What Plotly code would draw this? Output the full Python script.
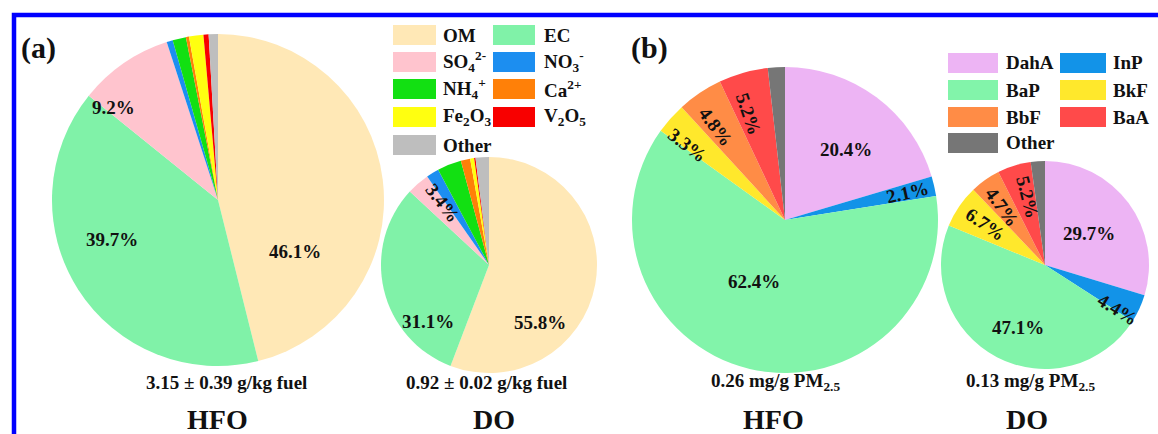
import math
import plotly.graph_objects as go

W, H = 1158, 434
SERIF = "Liberation Serif"

# (a) chemical composition of PM2.5 (% of mass)
comp_labels = ["OM", "EC", "SO<sub>4</sub><sup>2-</sup>", "NO<sub>3</sub><sup>-</sup>",
               "NH<sub>4</sub><sup>+</sup>", "Ca<sup>2+</sup>", "Fe<sub>2</sub>O<sub>3</sub>",
               "V<sub>2</sub>O<sub>5</sub>", "Other"]
comp_hfo = [46.1, 39.7, 9.2, 0.6, 1.3, 0.3, 1.4, 0.5, 0.9]
comp_do = [55.8, 31.1, 3.4, 1.9, 3.6, 1.4, 0.6, 0.2, 2.0]
comp_colors = ["#FFE8B6", "#80F2A8", "#FFC4CE", "#1C8EF0", "#12E012",
               "#FF8008", "#FFFF10", "#F80000", "#BEBEBE"]

# (b) PAH profile (% of total PAHs)
pah_labels = ["DahA", "InP", "BaP", "BkF", "BbF", "BaA", "Other"]
pah_hfo = [20.4, 2.1, 62.4, 3.3, 4.8, 5.2, 1.8]
pah_do = [29.7, 4.4, 47.1, 6.7, 4.7, 5.2, 2.2]
pah_colors = ["#EDB4F4", "#1293E8", "#82F4AA", "#FFE82C", "#FF8C46", "#FF4A4A", "#767676"]

# captions under each pie
totals = ["3.15 ± 0.39 g/kg fuel", "0.92 ± 0.02 g/kg fuel",
          "0.26 mg/g PM<sub>2.5</sub>", "0.13 mg/g PM<sub>2.5</sub>"]
fuels = ["HFO", "DO", "HFO", "DO"]

# pie geometry (centre x, centre y, radius in px) and label placement
# label style: slice index -> (radius fraction, angular shift in deg, orientation)
pies = [
    dict(values=comp_hfo, colors=comp_colors, c=(218, 200), r=166,
         lab={0: (0.56, 41, "h"), 1: (0.68, 12, "h"), 2: (0.84, -14, "h")}),
    dict(values=comp_do, colors=comp_colors, c=(489, 265), r=108,
         lab={0: (0.71, 38, "h"), 1: (0.77, -30, "h"), 2: (0.72, 4, "r")}),
    dict(values=pah_hfo, colors=pah_colors, c=(785, 220), r=153,
         lab={0: (0.61, 4, "h"), 1: (0.82, 0, "r"), 2: (0.45, 13, "h"),
              3: (0.80, -4, "r"), 4: (0.76, -3, "r"), 5: (0.73, -3, "r")}),
    dict(values=pah_do, colors=pah_colors, c=(1045, 265), r=104,
         lab={0: (0.52, 1, "h"), 1: (0.82, 7, "r"), 2: (0.66, -4, "h"),
              3: (0.69, 0, "r"), 4: (0.69, -1, "r"), 5: (0.67, 3, "r")}),
]
# (caption x, caption y, fuel-name x, fuel-name y) in px
caption_pos = [(226, 382, 217, 419), (486, 382, 494, 419),
               (775, 382, 773, 419), (1030, 382, 1027, 419)]


def px(x):
    return x / W


def py(y):
    return 1 - y / H


fig = go.Figure()
annotations = []

for p in pies:
    cx, cy = p["c"]
    r = p["r"]
    fig.add_trace(go.Pie(
        values=p["values"], sort=False, direction="clockwise", rotation=0,
        marker=dict(colors=p["colors"], line=dict(width=0)),
        textinfo="none", hoverinfo="percent", showlegend=False,
        domain=dict(x=[px(cx - r), px(cx + r)], y=[py(cy + r), py(cy - r)]),
    ))
    total = sum(p["values"])
    cum = 0.0
    for i, v in enumerate(p["values"]):
        mid = (cum + v / 2) / total * 360.0
        cum += v
        if i not in p["lab"]:
            continue
        frac, shift, orient = p["lab"][i]
        th = mid + shift
        if th > 180:
            th -= 360
        t = math.radians(th)
        x = cx + r * frac * math.sin(t)
        y = cy - r * frac * math.cos(t)
        if orient == "r":
            ang = th - 90 if th > 0 else th + 90
        else:
            ang = 0
        annotations.append(dict(
            x=px(x), y=py(y), xref="paper", yref="paper", showarrow=False,
            text=f"<b>{v:.1f}%</b>", textangle=ang,
            font=dict(family=SERIF, size=19, color="#111111"),
            xanchor="center", yanchor="middle"))

# captions
for (x1, y1, x2, y2), tot, fuel in zip(caption_pos, totals, fuels):
    annotations.append(dict(x=px(x1), y=py(y1), xref="paper", yref="paper", showarrow=False,
                            text=f"<b>{tot}</b>", font=dict(family=SERIF, size=19, color="#111111"),
                            xanchor="center", yanchor="middle"))
    annotations.append(dict(x=px(x2), y=py(y2), xref="paper", yref="paper", showarrow=False,
                            text=f"<b>{fuel}</b>", font=dict(family=SERIF, size=28, color="#111111"),
                            xanchor="center", yanchor="middle", borderpad=0))

# panel tags
for tag, x in (("(a)", 38), ("(b)", 649)):
    annotations.append(dict(x=px(x), y=py(48), xref="paper", yref="paper", showarrow=False,
                            text=f"<b>{tag}</b>", font=dict(family=SERIF, size=30, color="#111111"),
                            xanchor="center", yanchor="middle"))

shapes = []


def add_legend(labels, colors, sw_x, txt_x, rows_y, sw_h):
    for k, (lab, col) in enumerate(zip(labels, colors)):
        row, colno = divmod(k, 2)
        x0, x1 = sw_x[colno]
        yc = rows_y[row]
        shapes.append(dict(type="rect", xref="paper", yref="paper",
                           x0=px(x0), x1=px(x1), y0=py(yc + sw_h / 2), y1=py(yc - sw_h / 2),
                           fillcolor=col, line=dict(width=0)))
        annotations.append(dict(x=px(txt_x[colno]), y=py(yc), xref="paper", yref="paper",
                                showarrow=False, text=f"<b>{lab}</b>",
                                font=dict(family=SERIF, size=19, color="#111111"),
                                xanchor="left", yanchor="middle"))


add_legend(comp_labels, comp_colors, [(393, 436), (493, 535)], [441, 542],
           [35, 62, 89, 117, 145], 20)
add_legend(pah_labels, pah_colors, [(948, 998), (1060, 1106)], [1004, 1111],
           [63, 90, 117, 143], 20)

# blue frame
shapes.append(dict(type="rect", xref="paper", yref="paper",
                   x0=px(14), x1=px(W + 20), y0=py(H + 20), y1=py(15),
                   line=dict(color="#0000FF", width=4.5), fillcolor="rgba(0,0,0,0)"))

fig.update_layout(width=W, height=H, autosize=False,
                  margin=dict(l=0, r=0, t=0, b=0),
                  paper_bgcolor="white", plot_bgcolor="white",
                  annotations=annotations, shapes=shapes)

fig.write_html("out.html")
